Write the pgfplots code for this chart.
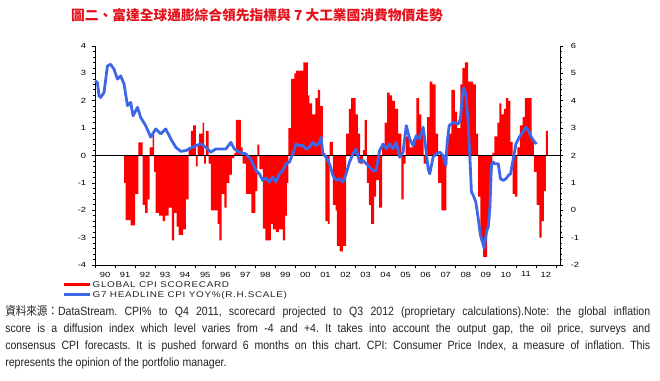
\documentclass[border=0pt]{standalone}
\usepackage{fontspec}
\setmainfont{Liberation Sans}
\newfontfamily\cjk{Noto Sans CJK TC}
\newfontfamily\tickfont[FakeStretch=1.25]{Liberation Sans}
\newfontfamily\legfont[FakeStretch=1.2,LetterSpace=8]{Liberation Sans}
\newfontfamily\notefont[FakeStretch=0.88]{Liberation Sans}
\newfontfamily\notecjk[FakeStretch=0.88]{Noto Sans CJK TC}
\usepackage{pgfplots}
\usepackage{pgfplotstable}
\pgfplotsset{compat=1.18}
\definecolor{barred}{HTML}{FF0000}
\definecolor{lineblue}{HTML}{3D67E6}
\definecolor{titlered}{HTML}{E3101A}
\definecolor{notegray}{HTML}{222222}

\pgfplotstableread{
year val
1991.45 -1.0
1991.53 -2.36
1991.78 -2.55
1992.0 -1.4
1992.17 0.48
1992.37 -1.8
1992.5 -2.1
1992.62 -1.6
1992.73 0.3
1992.87 0.8
1992.95 -0.6
1993.03 -2.1
1993.2 -2.2
1993.37 -2.4
1993.5 -2.2
1993.67 -1.9
1993.83 -3.1
1993.95 -2.1
1994.07 -2.6
1994.17 -2.9
1994.4 -2.7
1994.53 -1.6
1994.67 0.3
1994.78 0.9
1994.9 1.1
1995.03 -0.4
1995.12 0.4
1995.2 0.8
1995.37 1.2
1995.45 -0.3
1995.53 0.9
1995.67 -0.3
1995.78 -2.0
1996.12 -2.5
1996.2 -3.1
1996.32 -1.4
1996.45 -1.9
1996.57 -1.0
1996.7 -0.7
1996.83 -0.1
1996.95 0.1
1997.03 1.3
1997.28 0.3
1997.37 -0.3
1997.53 -1.4
1997.8 -2.1
1998.0 -1.3
1998.1 0.4
1998.2 -0.5
1998.37 -2.67
1998.5 -3.1
1998.78 -2.5
1998.87 -2.7
1999.03 -2.8
1999.17 -2.7
1999.37 -3.1
1999.48 -2.2
1999.57 -1.0
1999.65 1.0
1999.78 2.8
1999.95 3.0
2000.03 3.1
2000.4 3.4
2000.62 2.2
2000.7 1.9
2000.83 1.5
2001.0 2.1
2001.12 2.4
2001.23 1.8
2001.37 0.1
2001.5 -2.4
2001.62 -2.5
2001.7 0.5
2001.87 -1.8
2002.0 -2.0
2002.07 -3.3
2002.2 -3.5
2002.37 -3.3
2002.53 0.8
2002.67 1.7
2002.78 2.1
2003.0 1.5
2003.12 0.8
2003.23 -0.3
2003.37 0.2
2003.45 1.3
2003.57 -1.0
2003.67 -1.8
2003.78 -2.5
2003.92 -1.5
2004.03 -0.9
2004.17 -1.9
2004.33 0.4
2004.45 1.2
2004.57 2.3
2004.7 2.2
2004.83 2.0
2004.97 1.7
2005.12 0.8
2005.28 -1.6
2005.4 -0.3
2005.5 0.7
2005.7 0.3
2005.87 0.6
2006.03 2.1
2006.17 1.5
2006.28 0.8
2006.4 -0.3
2006.57 1.4
2006.7 2.7
2006.83 2.6
2007.0 0.8
2007.12 -1.0
2007.28 -2.0
2007.53 -0.4
2007.57 0.8
2007.78 2.4
2007.95 1.6
2008.07 1.0
2008.23 2.6
2008.33 3.2
2008.45 3.4
2008.62 2.7
2008.87 2.6
2009.0 0.8
2009.12 -1.5
2009.23 -3.1
2009.37 -3.7
2009.57 -2.6
2009.7 -0.6
2009.82 0.1
2009.92 0.7
2010.07 1.2
2010.17 1.9
2010.28 1.5
2010.4 1.7
2010.5 2.1
2010.62 2.0
2010.73 0.5
2010.83 -1.4
2010.95 -1.5
2011.07 0.3
2011.2 1.1
2011.33 1.4
2011.45 2.1
2011.78 0.6
2011.9 -0.6
2012.03 -1.8
2012.17 -3.0
2012.28 -2.4
2012.4 -1.3
2012.5 0.9
2012.6 0.9
}\scoretable

\pgfplotstableread{
year cpi
1990.0 4.73
1990.12 4.67
1990.2 4.18
1990.28 4.12
1990.45 4.30
1990.62 5.27
1990.78 5.33
1990.95 5.15
1991.12 4.79
1991.28 4.91
1991.45 4.61
1991.62 3.82
1991.78 3.94
1991.9 3.45
1992.12 3.76
1992.28 3.39
1992.53 3.09
1992.78 2.67
1993.03 2.97
1993.28 2.79
1993.53 2.97
1993.78 2.61
1994.03 2.30
1994.28 2.15
1994.53 2.18
1994.78 2.27
1995.03 2.36
1995.28 2.42
1995.53 2.30
1995.78 2.12
1996.03 2.24
1996.28 2.24
1996.53 2.24
1996.78 2.48
1996.95 2.24
1997.2 2.12
1997.53 2.06
1997.78 1.85
1998.03 1.45
1998.2 1.33
1998.37 1.09
1998.53 1.18
1998.7 1.03
1998.87 1.21
1999.03 1.03
1999.2 1.33
1999.37 1.45
1999.53 1.70
1999.7 1.76
1999.87 2.06
2000.03 2.42
2000.2 2.36
2000.37 2.36
2000.53 2.24
2000.7 2.30
2000.87 2.48
2001.03 2.36
2001.2 2.48
2001.28 2.67
2001.37 2.06
2001.53 1.94
2001.7 1.70
2001.87 1.27
2002.03 1.09
2002.2 1.15
2002.37 1.03
2002.53 1.33
2002.7 1.76
2002.87 2.06
2003.03 2.24
2003.2 1.76
2003.37 1.82
2003.53 1.70
2003.7 1.58
2003.87 1.45
2004.03 1.45
2004.2 2.18
2004.37 2.42
2004.53 2.24
2004.7 2.42
2004.87 2.24
2005.03 2.48
2005.2 1.94
2005.37 2.12
2005.53 3.09
2005.7 2.61
2005.87 2.36
2006.03 2.73
2006.2 2.61
2006.37 3.03
2006.45 2.61
2006.62 1.52
2006.7 1.33
2006.87 1.94
2007.03 2.06
2007.2 2.12
2007.37 2.00
2007.5 1.64
2007.57 2.48
2007.67 3.09
2007.87 3.21
2008.12 3.15
2008.23 3.33
2008.33 4.18
2008.4 4.48
2008.5 4.24
2008.62 3.21
2008.7 2.00
2008.78 0.67
2008.87 0.55
2009.0 0.30
2009.12 -0.30
2009.23 -0.91
2009.33 -1.15
2009.42 -1.39
2009.53 -0.79
2009.62 -0.61
2009.7 0.06
2009.78 1.64
2009.87 1.76
2009.95 1.70
2010.12 1.70
2010.23 1.15
2010.37 1.09
2010.5 1.15
2010.62 1.27
2010.73 1.33
2010.87 1.88
2011.0 2.42
2011.17 2.67
2011.33 2.85
2011.5 3.03
2011.62 2.91
2011.73 2.73
2011.87 2.55
2012.03 2.42
}\cpitable

\pgfplotsset{
  commonaxis/.style={
    scale only axis,
    width=348.75pt, height=164.25pt,
    at={(71.25pt,-198.75pt)}, anchor=south west,
    xmin=1990, xmax=2013.2,
    clip=false,
    axis line style={-, black, line width=0.6pt},
    tick style={black, line width=0.5pt},
    tick align=outside,
    major tick length=2.6pt,
    minor tick length=1.6pt,
    /pgf/number format/assume math mode=true,
    tick label style={font=\tickfont\fontsize{5.6}{6}\selectfont},
  }
}

\begin{document}
\frenchspacing
\begin{tikzpicture}
\path[use as bounding box] (0,0) rectangle (495pt,-285.75pt);

\node[text=titlered, font=\cjk\bfseries\fontsize{10.3}{12}\selectfont, anchor=center] at (192.75pt,-11.5pt) {圖二、富達全球通膨綜合領先指標與 7 大工業國消費物價走勢};

\begin{axis}[commonaxis,
  axis y line*=left, axis x line*=bottom,
  ymin=-4, ymax=4,
  ytick={-4,-3,...,4},
  minor y tick num=4,
  xtick={1990,...,2013},
  x tick label as interval,
  xticklabels={90,91,92,93,94,95,96,97,98,99,00,01,02,03,04,05,06,07,08,09,10,11,12},
  yticklabel style={xshift=-0.5pt},
  xticklabel style={yshift=1pt},
  legend style={at={(axis description cs:-0.071,-0.068)}, anchor=north west,
    draw=none, fill=none, inner sep=0pt, row sep=1.3pt,
    font=\legfont\fontsize{6.2}{7}\selectfont, text=notegray,
    nodes={inner sep=0.6pt, text height=4.6pt, text depth=0.4pt}},
  legend cell align=left,
  legend image code/.code={\draw[#1] (0pt,0pt) -- (20pt,0pt);},
]
\addlegendimage{barred, line width=2.2pt}
\addlegendentry{GLOBAL CPI SCORECARD}
\addlegendimage{lineblue, line width=2.2pt}
\addlegendentry{G7 HEADLINE CPI YOY\%(R.H.SCALE)}
\addplot[const plot, fill=barred, draw=none, forget plot] table[x=year, y=val] {\scoretable} \closedcycle;
\addplot[black, line width=0.9pt, forget plot] coordinates {(1990,0) (2013.2,0)};
\end{axis}

\begin{axis}[commonaxis,
  axis y line*=right, axis x line=none,
  ymin=-2, ymax=6,
  ytick={-2,-1,...,6},
  minor y tick num=4,
  yticklabel style={xshift=2pt},
]
\addplot[lineblue, line width=2.1pt, line join=round] table[x=year, y=cpi] {\cpitable};
\end{axis}

\node[anchor=north west, text width=483.75pt, align=justify, inner sep=0pt,
  text=notegray, font=\notefont\fontsize{9}{12.75}\selectfont] at (3.75pt,-228.5pt)
{\frenchspacing{\notecjk 資料來源：}DataStream. CPI\% to Q4 2011, scorecard projected to Q3 2012 (proprietary calculations).Note: the global inflation\linebreak
score is a diffusion index which level varies from -4 and +4. It takes into account the output gap, the oil price, surveys and\linebreak
consensus CPI forecasts. It is pushed forward 6 months on this chart. CPI: Consumer Price Index, a measure of inflation. This\linebreak
represents the opinion of the portfolio manager.};
\end{tikzpicture}
\end{document}
